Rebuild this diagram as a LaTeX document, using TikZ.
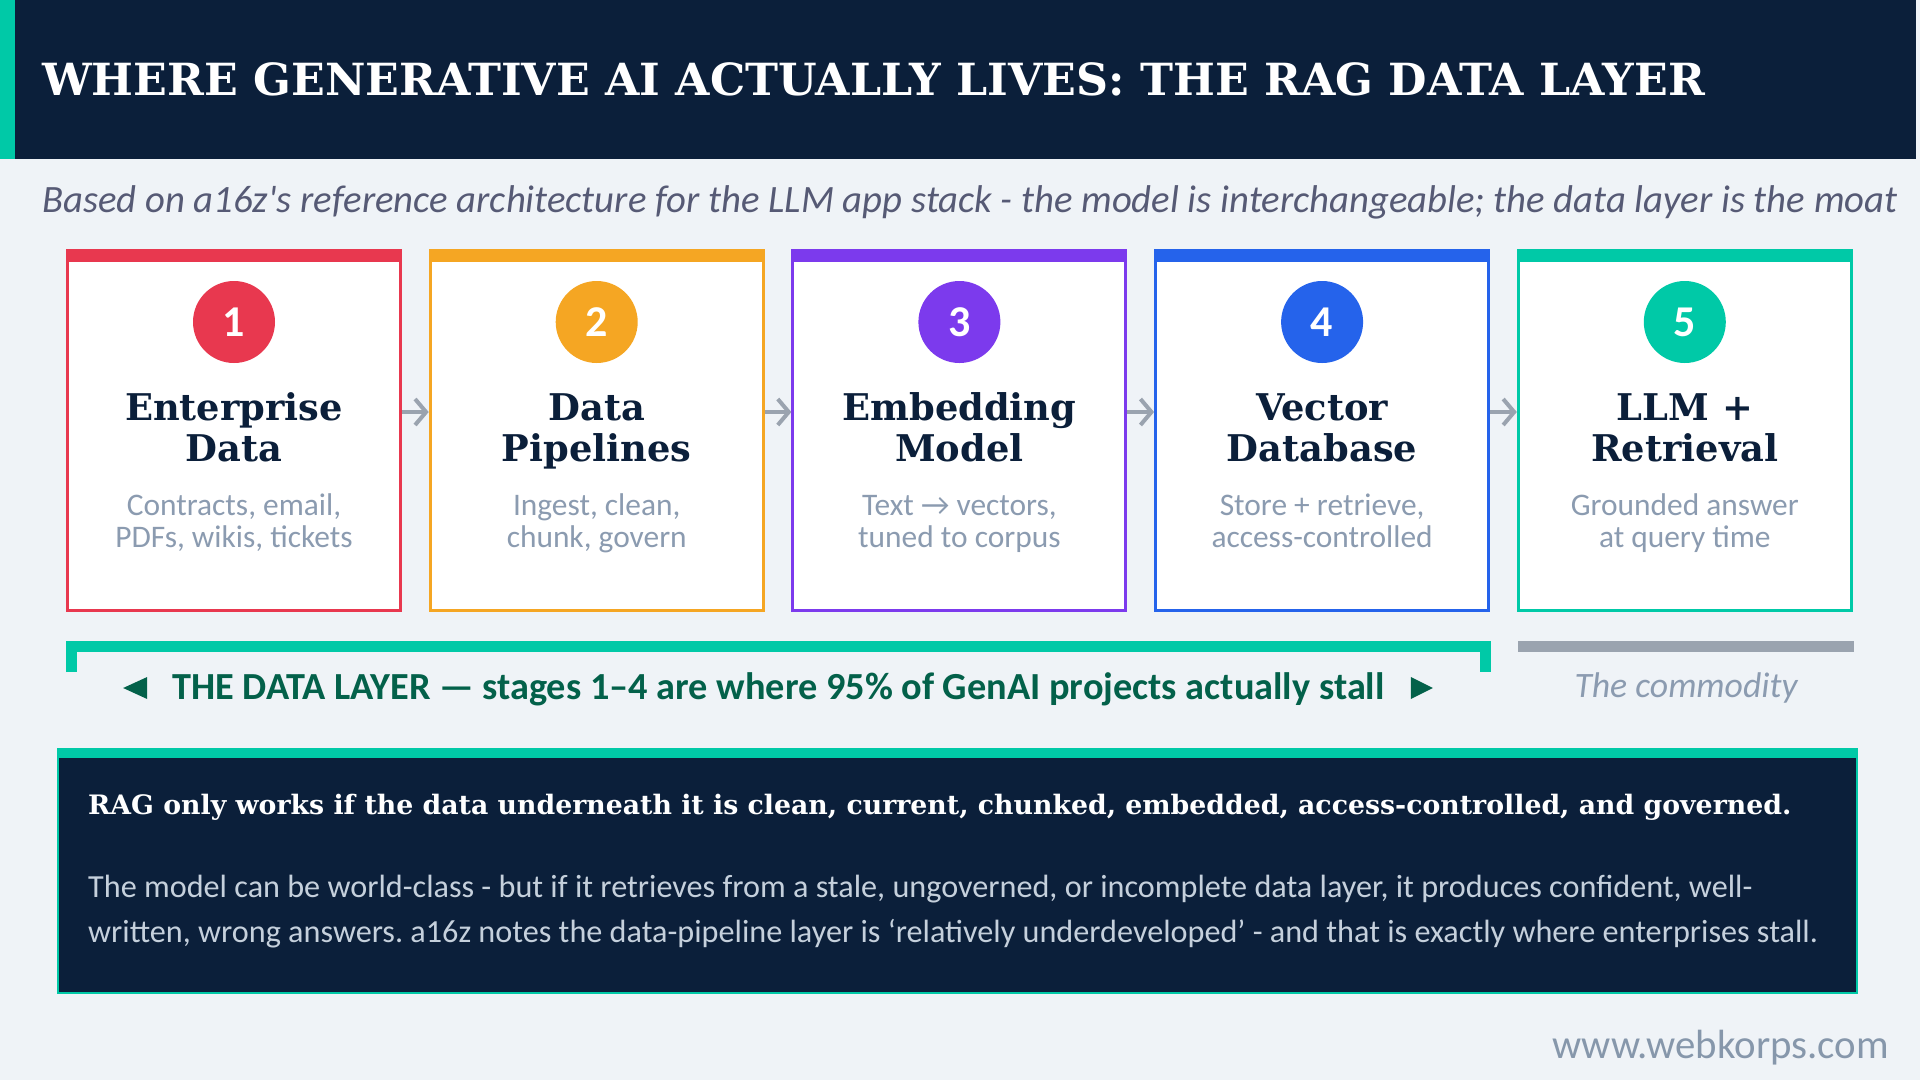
\documentclass[tikz,border=0pt]{standalone}
\usepackage{fontspec}
\usetikzlibrary{arrows.meta}
\newfontfamily\hs{DejaVu Serif}
\newfontfamily\cb{Carlito}
\frenchspacing
\definecolor{bg}{HTML}{EFF3F7}
\definecolor{navy}{HTML}{0B1F3A}
\definecolor{teal}{HTML}{00C9A7}
\definecolor{cred}{HTML}{E8384F}
\definecolor{corange}{HTML}{F5A623}
\definecolor{cpurple}{HTML}{7C3AED}
\definecolor{cblue}{HTML}{2563EB}
\definecolor{descgray}{HTML}{8B9BB0}
\definecolor{subgray}{HTML}{565A75}
\definecolor{bangreen}{HTML}{03614A}
\definecolor{arrgray}{HTML}{9AA3AF}
\definecolor{bodytxt}{HTML}{C5D0DC}
\definecolor{footgray}{HTML}{8697AB}
\tikzset{
  cardbox/.style={draw=#1, fill=white, line width=3pt, minimum width=333pt, minimum height=359pt, inner sep=0pt},
  numdot/.style={circle, fill=#1, minimum size=82pt, inner sep=0pt, text=white, font=\cb\bfseries\fontsize{44}{44}\selectfont},
  cardtitle/.style={anchor=base, inner sep=0pt, text=navy, font=\hs\bfseries\fontsize{36.8}{40}\selectfont},
  carddesc/.style={anchor=base, inner sep=0pt, text=descgray, font=\cb\fontsize{31.4}{34}\selectfont},
  bodyline/.style={anchor=base west, inner sep=0pt, text=bodytxt, font=\cb\fontsize{32.2}{36}\selectfont},
  flowarrow/.style={draw=arrgray, line width=4pt, -{Straight Barb[length=11pt,width=26pt,line width=4pt]}},
}
\begin{document}
\begin{tikzpicture}[x=1pt,y=-1pt]
\useasboundingbox (0,0) rectangle (1920,1080);
\fill[bg] (0,0) rectangle (1920,1080);
% header
\fill[navy] (0,0) rectangle (1916,159);
\fill[teal] (0,0) rectangle (15,159);
\node[anchor=base west, inner sep=0pt, text=white, font=\hs\bfseries\fontsize{44.3}{50}\selectfont] (title) at (42,95) {WHERE GENERATIVE AI ACTUALLY LIVES: THE RAG DATA LAYER};
\node[anchor=base west, inner sep=0pt, text=subgray, font=\cb\itshape\fontsize{38.7}{42}\selectfont] (subtitle) at (42,212) {Based on a16z's reference architecture for the LLM app stack - the model is interchangeable; the data layer is the moat};
% cards
\foreach \i/\col/\la/\lb/\da/\db in {
  1/cred/Enterprise/Data/{Contracts, email,}/{PDFs, wikis, tickets},
  2/corange/Data/Pipelines/{Ingest, clean,}/{chunk, govern},
  3/cpurple/Embedding/Model/{Text → vectors,}/{tuned to corpus},
  4/cblue/Vector/Database/{Store + retrieve,}/{access-controlled},
  5/teal/LLM +/Retrieval/{Grounded answer}/{at query time}}{
  \pgfmathsetmacro\L{66+362.7*(\i-1)}
  \node[cardbox=\col] (card\i) at (\L+168,430.5) {};
  \fill[\col] (\L,249) rectangle (\L+336,262);
  \node[numdot=\col] (num\i) at (\L+168,322) {\i};
  \node[cardtitle] (ta\i) at (\L+168,420) {\la};
  \node[cardtitle] (tb\i) at (\L+168,461) {\lb};
  \node[carddesc] (da\i) at (\L+168,515) {\da};
  \node[carddesc] (db\i) at (\L+168,547) {\db};
}
\foreach \i/\j in {1/2,2/3,3/4,4/5}{
  \draw[flowarrow] ([yshift=18.5pt]card\i.east) -- ([yshift=18.5pt]card\j.west);
}
% data layer bracket
\draw[teal, line width=11pt, line join=miter] (71.5,672) -- (71.5,646.5) -- (1485.5,646.5) -- (1485.5,672);
\node[anchor=base, inner sep=0pt, text=bangreen, font=\cb\bfseries\fontsize{38.3}{42}\selectfont] (banner) at (778.5,699) {THE DATA LAYER — stages 1–4 are where 95\% of GenAI projects actually stall};
\fill[bangreen] ([xshift=-25pt]banner.west |- 0,677) -- ([xshift=-25pt]banner.west |- 0,699) -- ([xshift=-49pt]banner.west |- 0,688) -- cycle;
\fill[bangreen] ([xshift=26pt]banner.east |- 0,677) -- ([xshift=26pt]banner.east |- 0,699) -- ([xshift=48pt]banner.east |- 0,688) -- cycle;
% commodity
\fill[arrgray] (1518,641) rectangle (1854,652);
\node[anchor=base, inner sep=0pt, text=descgray, font=\cb\itshape\fontsize{35.7}{40}\selectfont] (commodity) at (1686,697) {The commodity};
% bottom box
\filldraw[fill=navy, draw=teal, line width=2pt] (58,749) rectangle (1857,993);
\fill[teal] (57,748) rectangle (1858,758);
\node[anchor=base west, inner sep=0pt, text=white, font=\hs\bfseries\fontsize{26.75}{30}\selectfont] (rag) at (88,814) {RAG only works if the data underneath it is clean, current, chunked, embedded, access-controlled, and governed.};
\node[bodyline] (body1) at (88,897) {The model can be world-class - but if it retrieves from a stale, ungoverned, or incomplete data layer, it produces confident, well-};
\node[bodyline] (body2) at (88,942) {written, wrong answers. a16z notes the data-pipeline layer is ‘relatively underdeveloped’ - and that is exactly where enterprises stall.};
% footer
\node[anchor=base east, inner sep=0pt, text=footgray, font=\cb\fontsize{40.8}{44}\selectfont] (footer) at (1889,1058) {www.webkorps.com};
\end{tikzpicture}
\end{document}
